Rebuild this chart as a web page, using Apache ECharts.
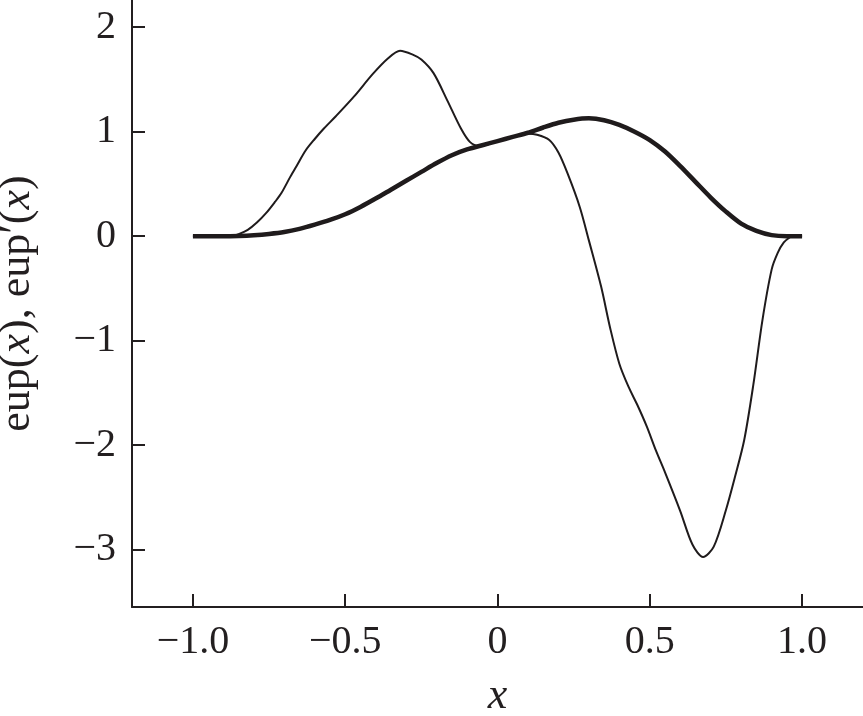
<!DOCTYPE html>
<html>
<head>
<meta charset="utf-8">
<script src="https://cdn.jsdelivr.net/npm/echarts@6/dist/echarts.min.js"></script>
<style>
html,body{margin:0;padding:0;background:#fff;}
#c{width:863px;height:716px;}
</style>
</head>
<body>
<div id="c"></div>
<script>
// eup(x) — thick curve
const eupX = [-1.0,-0.95,-0.9,-0.85,-0.8,-0.75,-0.7,-0.65,-0.6,-0.55,-0.5,-0.45,-0.4,-0.35,-0.3,-0.25,-0.2,-0.15,-0.1,-0.05,0.0,0.05,0.1,0.15,0.2,0.25,0.3,0.35,0.4,0.45,0.5,0.55,0.6,0.65,0.7,0.75,0.8,0.85,0.9,0.95,1.0];
const eupY = [0,0,0,0.003,0.01,0.022,0.04,0.07,0.11,0.155,0.21,0.28,0.36,0.445,0.53,0.615,0.70,0.775,0.83,0.87,0.91,0.95,0.99,1.04,1.085,1.115,1.128,1.11,1.065,1.0,0.92,0.81,0.67,0.52,0.37,0.235,0.12,0.05,0.01,0.0,0.0];

// eup'(x) — thin curve
const dX = [-1.0,-0.95,-0.9,-0.87,-0.85,-0.82,-0.79,-0.76,-0.73,-0.71,-0.68,-0.66,-0.63,-0.60,-0.57,-0.53,-0.47,-0.41,-0.36,-0.32,-0.28,-0.25,-0.21,-0.165,-0.12,-0.09,-0.06,-0.03,0.0,0.05,0.10,0.13,0.17,0.20,0.23,0.27,0.30,0.34,0.37,0.40,0.43,0.46,0.49,0.52,0.55,0.60,0.64,0.675,0.71,0.75,0.78,0.81,0.84,0.87,0.90,0.92,0.94,0.96,0.97,1.0];
const dY = [0,0,0,0.005,0.02,0.06,0.13,0.22,0.33,0.41,0.57,0.67,0.82,0.93,1.03,1.15,1.34,1.55,1.70,1.775,1.74,1.69,1.56,1.30,1.03,0.90,0.865,0.88,0.91,0.95,0.98,0.97,0.92,0.80,0.60,0.28,-0.04,-0.48,-0.88,-1.22,-1.44,-1.62,-1.82,-2.05,-2.26,-2.63,-2.95,-3.07,-2.97,-2.62,-2.30,-1.95,-1.42,-0.80,-0.32,-0.16,-0.06,-0.01,0.0,0.0];

const xTicks = [-1.0,-0.5,0,0.5,1.0];
const yTicks = [-3,-2,-1,0,1,2];

const FONT = '"Liberation Serif","Times New Roman",serif';
const INK = '#231f20';

function fmtX(v){ return (v < 0 ? '\u2212' : '') + Math.abs(v).toFixed(1).replace(/^0\.0$/, '0'); }
function fmtY(v){ return (v < 0 ? '\u2212' : '') + Math.abs(Math.round(v)); }

const chart = echarts.init(document.getElementById('c'), null, {renderer:'canvas'});
chart.setOption({
  animation: false,
  backgroundColor: '#fff',
  grid: {left: 132, right: 0, top: 0, bottom: 109, containLabel: false, outerBoundsMode: 'none'},
  xAxis: {
    type: 'value', min: -1.2, max: 1.2,
    splitLine: {show: false},
    axisLine: {show: true, onZero: false, lineStyle: {color: INK, width: 2}},
    axisTick: {show: true, inside: true, length: 13, customValues: xTicks, lineStyle: {color: INK, width: 2}},
    axisLabel: {show: true, customValues: xTicks, margin: 15, formatter: fmtX, color: INK, fontFamily: FONT, fontSize: 40},
    name: 'x', nameLocation: 'middle', nameGap: 67,
    nameTextStyle: {color: INK, fontFamily: FONT, fontSize: 44, fontStyle: 'italic'}
  },
  yAxis: {
    type: 'value', min: -3.548, max: 2.26,
    splitLine: {show: false},
    axisLine: {show: true, onZero: false, lineStyle: {color: INK, width: 2}},
    axisTick: {show: true, inside: true, length: 13, customValues: yTicks, lineStyle: {color: INK, width: 2}},
    axisLabel: {show: true, customValues: yTicks, margin: 16, formatter: fmtY, color: INK, fontFamily: FONT, fontSize: 40},
    name: '{n|eup(}{i|x}{n|), eup\u2032(}{i|x}{n|)}', nameLocation: 'middle', nameGap: 93, nameRotate: 90,
    nameTextStyle: {
      color: INK, fontFamily: FONT, fontSize: 44,
      rich: {
        n: {color: INK, fontFamily: FONT, fontSize: 44},
        i: {color: INK, fontFamily: FONT, fontSize: 44, fontStyle: 'italic'}
      }
    }
  },
  series: [
    {
      type: 'line', name: 'eup', showSymbol: false, smooth: 0.3,
      data: eupX.map((x, i) => [x, eupY[i]]),
      lineStyle: {color: '#1f1b1c', width: 4.5}, z: 2
    },
    {
      type: 'line', name: 'eup\'', showSymbol: false, smooth: 0.3,
      data: dX.map((x, i) => [x, dY[i]]),
      lineStyle: {color: '#1f1b1c', width: 2}, z: 3
    }
  ]
});
</script>
</body>
</html>
